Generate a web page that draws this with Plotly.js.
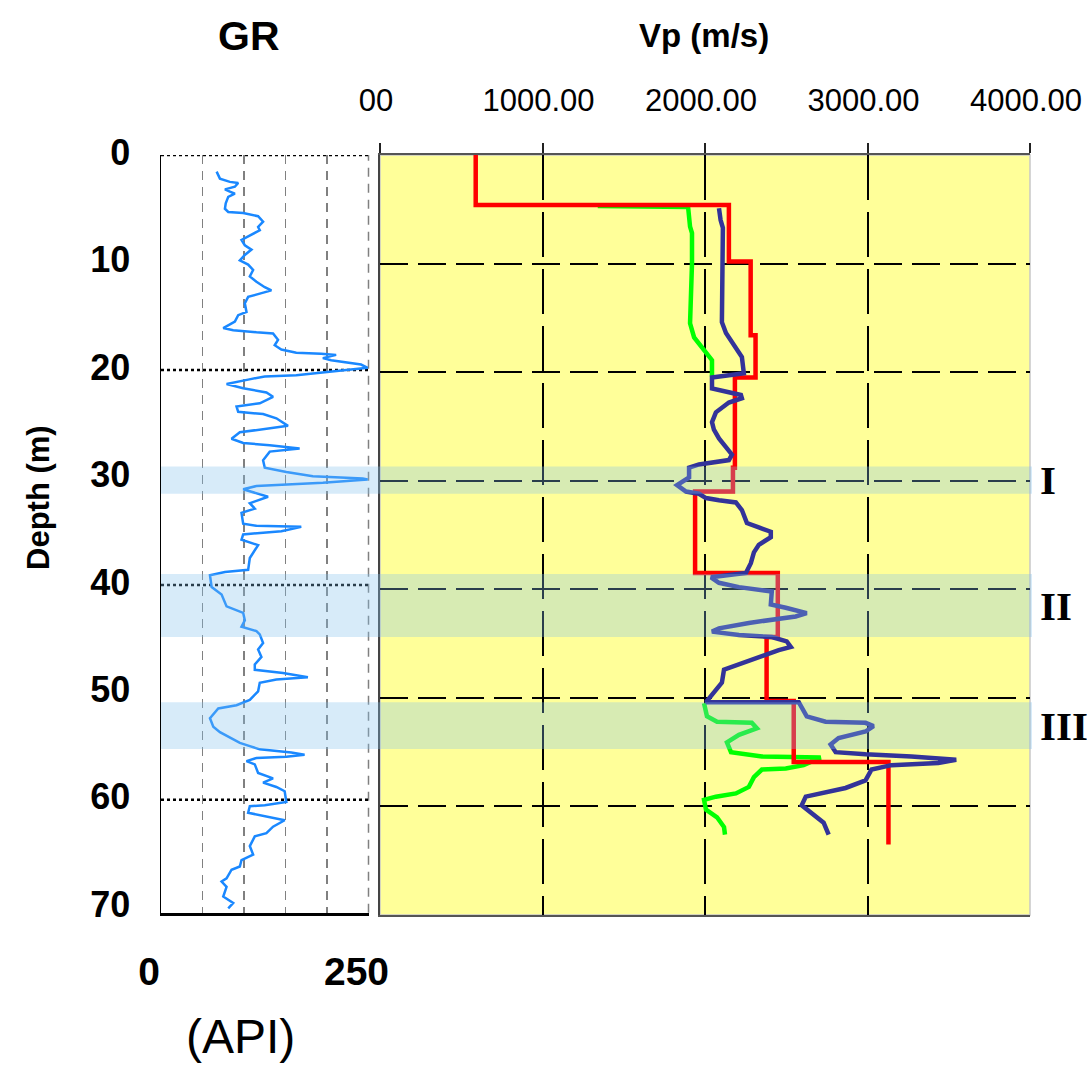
<!DOCTYPE html>
<html>
<head>
<meta charset="utf-8">
<script src="https://cdn.plot.ly/plotly-3.0.1.min.js"></script>
<style>html,body{margin:0;padding:0;background:#fff;}#chart{width:1087px;height:1066px;}</style>
</head>
<body>
<div id="chart"></div>
<script>
// ---------------- DATA ----------------
const depthTicks = [0, 10, 20, 30, 40, 50, 60, 70];
const grTickVals = [0, 50, 100, 150, 200, 250];
const grTickText = ['0', '', '', '', '', '250'];
const grDottedDepths = [0, 20, 40, 60];
const vpTickVals = [0, 1000, 2000, 3000, 4000];
const vpTickText = ['00', '1000.00', '2000.00', '3000.00', '4000.00'];
const vpGridDepths = [10, 20, 30, 40, 50, 60];

// GR log (API) vs depth (m)
const grValue = [67,71,83,93,89,77,83,89,81,78,77,81,99,117,123,117,119,109,97,101,109,101,95,105,111,107,115,125,133,119,105,101,103,93,89,75,87,115,135,141,137,145,163,193,211,195,205,241,249,163,125,105,79,99,127,135,119,91,93,123,139,153,125,95,85,99,131,167,131,123,125,151,183,243,249,195,115,99,129,107,113,97,99,115,169,145,99,97,117,107,105,77,59,61,73,79,99,101,97,115,119,123,117,121,113,113,147,177,139,119,117,107,91,69,59,63,71,85,95,107,119,157,173,151,115,103,113,117,135,123,139,149,151,125,107,105,125,149,135,127,113,107,111,97,95,85,79,73,79,75,87,81];
const grDepth = [1.55,2.2,2.5,2.6,2.95,3.2,3.4,3.6,3.9,4.5,5.0,5.3,5.4,5.7,6.2,6.7,7.0,7.4,7.9,8.4,8.8,9.3,9.8,10.2,10.7,11.3,11.8,12.3,12.6,12.9,13.2,13.8,14.6,14.9,15.5,16.1,16.3,16.5,16.6,17.2,17.7,18.1,18.4,18.5,18.6,18.9,19.1,19.5,19.8,20.5,20.6,20.9,21.3,21.7,22.1,22.5,23.1,23.4,23.9,24.1,24.5,25.2,25.5,25.8,26.4,26.8,27.0,27.3,27.6,28.4,29.1,29.5,29.9,30.1,30.2,30.5,30.8,31.1,31.8,32.4,32.9,33.3,34.3,34.5,34.6,35.0,35.3,35.8,36.3,37.5,38.6,38.8,39.1,40.2,40.9,42.0,42.6,43.3,43.9,44.3,44.6,45.4,46.0,46.7,47.4,47.9,48.2,48.6,48.8,49.1,49.9,50.7,51.2,51.5,52.4,53.2,53.7,54.3,54.7,55.0,55.3,55.6,55.8,56.0,56.1,56.4,56.7,57.5,58.0,58.4,58.8,59.2,60.2,60.5,60.6,61.2,61.5,61.9,62.5,63.1,63.4,64.3,65.1,65.6,66.2,66.5,67.3,67.6,68.1,69.0,69.6,70.1];

// Red Vp (layered model, m/s)
const redVp = [589,589,2147,2147,2281,2281,2311,2311,2184,2184,2172,2172,1939,1939,2448,2448,2379,2379,2546,2546,3129,3129];
const redDepth = [0,4.6,4.6,9.8,9.8,16.6,16.6,20.5,20.5,28.8,28.8,31,31,38.5,38.5,44.4,44.4,50.3,50.3,55.9,55.9,63.5];

// Blue Vp
const blueVp = [2086,2096,2110,2110,2104,2129,2178,2227,2239,2043,2043,2147,2221,2227,2147,2067,2043,2055,2086,2129,2166,2147,2067,1963,1902,1902,1828,1883,1963,2006,2086,2190,2227,2258,2331,2405,2405,2331,2301,2282,2252,2037,2086,2209,2411,2405,2405,2497,2626,2558,2411,2270,2086,2043,2209,2411,2503,2528,2454,2288,2190,2117,2104,2067,2012,2006,2577,2626,2742,2988,3037,2988,2822,2773,2804,2988,3270,3546,3436,3147,3025,2988,2865,2742,2620,2595,2656,2730,2761];
const blueDepth = [4.9,6.0,6.7,12.2,15.4,16.4,17.5,18.6,20.1,20.5,21.5,21.8,22.1,22.4,22.8,23.7,24.6,25.3,26.1,26.9,27.6,28.1,28.3,28.5,28.8,29.7,30.4,31.0,31.2,31.6,31.8,32.0,32.7,33.9,34.3,34.7,35.2,35.9,36.6,37.6,38.5,38.9,39.4,39.8,40.2,41.0,41.4,41.7,42.2,42.5,42.8,43.1,43.6,43.9,44.2,44.4,44.8,45.3,45.6,46.5,47.1,47.4,48.6,49.3,50.2,50.4,50.4,51.7,52.2,52.3,52.6,53.1,53.7,54.3,55.0,55.2,55.4,55.7,56.0,56.2,56.6,57.6,58.3,58.7,59.1,59.9,60.6,61.5,62.6];

// Green Vp
const greenVp = [1340,1896,1908,1920,1920,1908,1933,1994,2043,2043,null,1994,2012,2074,2288,2319,2209,2135,2160,2350,2712,2607,2497,2350,2301,2270,2190,2067,1994,2006,2074,2117,2123];
const greenDepth = [4.7,4.8,6.6,7.2,10,15.5,16.8,18,18.9,20.4,null,50.5,51.7,52.2,52.3,52.8,53.4,54.1,55,55.4,55.5,56.2,56.5,56.6,57.3,58.2,58.8,59.1,59.4,60.3,61,61.9,62.6];

// Highlighted zones
const bandLabels = ['I', 'II', 'III'];
const bandTop = [28.7, 38.6, 50.4];
const bandBottom = [31.2, 44.4, 54.7];

// ---------------- STYLE ----------------
const W = 1087, H = 1066;
const px = v => v / W;
const py = v => 1 - v / H;
const SANS = '"Liberation Sans", Arial, sans-serif';
const SERIF = '"Liberation Serif", "Times New Roman", serif';

const traces = [
  {x: grValue, y: grDepth, xaxis: 'x', yaxis: 'y', type: 'scatter', mode: 'lines',
   line: {color: '#1a88ff', width: 2.5}, hoverinfo: 'skip'},
  {x: greenVp, y: greenDepth, xaxis: 'x2', yaxis: 'y2', type: 'scatter', mode: 'lines',
   line: {color: '#00ff00', width: 4.5}, connectgaps: false, hoverinfo: 'skip'},
  {x: redVp, y: redDepth, xaxis: 'x2', yaxis: 'y2', type: 'scatter', mode: 'lines',
   line: {color: '#ff0000', width: 4.5}, hoverinfo: 'skip'},
  {x: blueVp, y: blueDepth, xaxis: 'x2', yaxis: 'y2', type: 'scatter', mode: 'lines',
   line: {color: '#333399', width: 4.5}, hoverinfo: 'skip'}
];

const shapes = [
  // yellow background of the Vp track
  {type: 'rect', xref: 'x2 domain', yref: 'y2 domain', x0: 0, x1: 1, y0: 0, y1: 1,
   fillcolor: '#ffff99', line: {color: '#c8c8c8', width: 1.5}, layer: 'below'},
  // right edge of the GR track (dashed like its grid)
  {type: 'line', xref: 'x domain', yref: 'y domain', x0: 1, x1: 1, y0: 0, y1: 1,
   line: {color: '#808080', width: 1.5, dash: '9px,7px'}, layer: 'below'}
];
grDottedDepths.forEach(d => shapes.push({
  type: 'line', xref: 'x domain', yref: 'y', x0: 0, x1: 1, y0: d, y1: d,
  line: {color: '#000', width: 2.5, dash: 'dot'}, layer: 'below'
}));
bandLabels.forEach((lab, i) => shapes.push({
  type: 'rect', xref: 'paper', yref: 'y2', x0: px(161), x1: px(1032),
  y0: bandTop[i], y1: bandBottom[i],
  fillcolor: 'rgba(130,192,235,0.32)', line: {width: 0}, layer: 'above'
}));

const annotations = [
  {text: 'GR', xref: 'paper', yref: 'paper', x: px(249), y: py(36), showarrow: false,
   xanchor: 'center', yanchor: 'middle', font: {family: SANS, size: 41, weight: 'bold', color: '#000'}},
  {text: 'Vp (m/s)', xref: 'paper', yref: 'paper', x: px(704), y: py(35), showarrow: false,
   xanchor: 'center', yanchor: 'middle', font: {family: SANS, size: 33, weight: 'bold', color: '#000'}},
  {text: 'Depth (m)', xref: 'paper', yref: 'paper', x: px(38), y: py(498), showarrow: false,
   textangle: -90, xanchor: 'center', yanchor: 'middle', font: {family: SANS, size: 31, weight: 'bold', color: '#000'}},
  {text: '(API)', xref: 'paper', yref: 'paper', x: px(240), y: py(1036), showarrow: false,
   xanchor: 'center', yanchor: 'middle', font: {family: SANS, size: 48, color: '#000'}}
];
bandLabels.forEach((lab, i) => annotations.push({
  text: lab, xref: 'paper', yref: 'y2', x: px(1038), y: (bandTop[i] + bandBottom[i]) / 2,
  showarrow: false, xanchor: 'left', yanchor: 'middle',
  font: {family: SERIF, size: 41, weight: 'bold', color: '#000'}
}));

const layout = {
  width: W, height: H, margin: {l: 0, r: 0, t: 0, b: 0},
  paper_bgcolor: '#fff', plot_bgcolor: '#fff', showlegend: false,
  xaxis: {
    domain: [px(161), px(368.5)], range: [0, 250], anchor: 'y', side: 'bottom',
    tickmode: 'array', tickvals: grTickVals, ticktext: grTickText,
    ticks: 'outside', ticklen: 22, tickcolor: 'rgba(0,0,0,0)', ticklabelshift: -12,
    tickfont: {family: SANS, size: 39, weight: 'bold', color: '#000'},
    showgrid: true, gridcolor: '#808080', gridwidth: 1.5, griddash: '9px,7px',
    showline: true, linecolor: '#000', linewidth: 3.5, zeroline: false, fixedrange: true
  },
  yaxis: {
    domain: [py(912.7), py(155)], range: [70.5, 0], anchor: 'x',
    tickmode: 'array', tickvals: depthTicks,
    ticks: 'outside', ticklen: 22, tickcolor: 'rgba(0,0,0,0)', ticklabelshift: 3,
    tickfont: {family: SANS, size: 36, weight: 'bold', color: '#000'},
    showgrid: false, showline: true, linecolor: '#000', linewidth: 1.5, zeroline: false, fixedrange: true
  },
  xaxis2: {
    domain: [px(380), px(1030)], range: [0, 4000], anchor: 'y2', side: 'top',
    tickmode: 'array', tickvals: vpTickVals, ticktext: vpTickText,
    ticks: 'outside', ticklen: 10, tickwidth: 2, tickcolor: '#222',
    ticklabelstandoff: 20, ticklabelshift: -4, ticklabeloverflow: 'allow',
    tickfont: {family: SANS, size: 31, color: '#000'},
    showgrid: true, gridcolor: '#000', gridwidth: 2, griddash: '45px,12px',
    showline: true, linecolor: '#555', linewidth: 2, mirror: true, zeroline: false, fixedrange: true
  },
  yaxis2: {
    domain: [py(915), py(155)], range: [70, 0], anchor: 'x2',
    tickmode: 'array', tickvals: vpGridDepths, showticklabels: false, ticks: '',
    showgrid: true, gridcolor: '#000', gridwidth: 2, griddash: '28px,10px',
    showline: true, linecolor: '#444', linewidth: 2, zeroline: false, fixedrange: true
  },
  shapes: shapes,
  annotations: annotations
};

Plotly.newPlot('chart', traces, layout, {displayModeBar: false, staticPlot: true});
</script>
</body>
</html>
